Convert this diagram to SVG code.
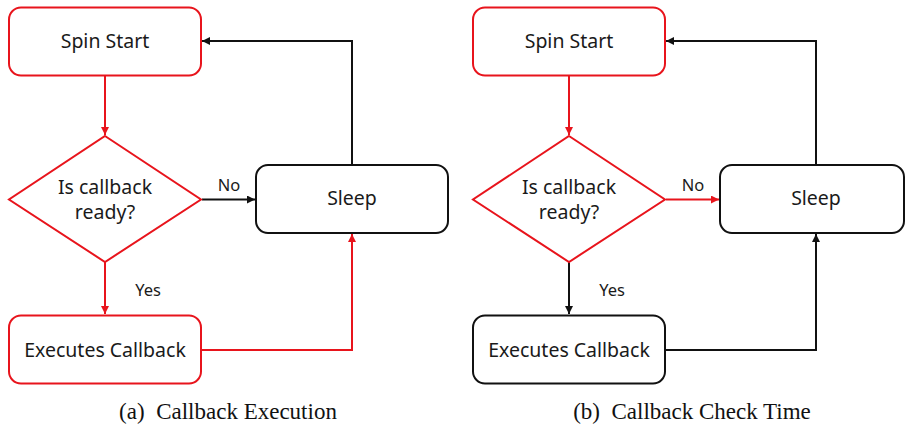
<svg xmlns="http://www.w3.org/2000/svg" width="906" height="431" viewBox="0 0 906 431">
<style>
.n{font-family:"Noto Sans","Open Sans",sans-serif;font-size:19.5px;fill:#1a1a1a;text-anchor:middle}
.l{font-family:"Noto Sans","Open Sans",sans-serif;font-size:16.5px;fill:#1a1a1a;text-anchor:middle}
.cap{font-family:"Liberation Serif","Times New Roman",serif;font-size:23px;fill:#111;text-anchor:middle}
.r{fill:#fff;stroke:#e8141c;stroke-width:2}
.k{fill:#fff;stroke:#111;stroke-width:2}
.cr{fill:none;stroke:#e8141c;stroke-width:2}
.ck{fill:none;stroke:#111;stroke-width:2}
</style>
<defs>
<marker id="ar" viewBox="0 0 10 10" refX="10" refY="5" markerWidth="4" markerHeight="4" orient="auto" markerUnits="strokeWidth"><path d="M0,0 L10,5 L0,10 z" fill="#e8141c"/></marker>
<marker id="ak" viewBox="0 0 10 10" refX="10" refY="5" markerWidth="4" markerHeight="4" orient="auto" markerUnits="strokeWidth"><path d="M0,0 L10,5 L0,10 z" fill="#111"/></marker>
</defs>
<rect width="906" height="431" fill="#fff"/>

<g id="connectors-a">
<path class="cr" d="M105,76 V135" marker-end="url(#ar)"/>
<path class="ck" d="M202,199.5 H255" marker-end="url(#ak)"/>
<path class="ck" d="M352,164 V41 H202" marker-end="url(#ak)"/>
<path class="cr" d="M105,262 V314" marker-end="url(#ar)"/>
<path class="cr" d="M202,350 H352 V234" marker-end="url(#ar)"/>
<text class="l" x="229" y="191">No</text>
<text class="l" x="148" y="296">Yes</text>
</g>
<g id="a-spin"><rect class="r" x="9" y="7.5" width="192" height="68" rx="12"/><text class="n" x="105" y="48">Spin Start</text></g>
<g id="a-check"><path class="r" d="M105,136 L201,199.5 L105,262 L9,199.5 Z"/><text class="n" x="105" y="194">Is callback</text><text class="n" x="105" y="219">ready?</text></g>
<g id="a-sleep"><rect class="k" x="256" y="165" width="192" height="68" rx="12"/><text class="n" x="352" y="205">Sleep</text></g>
<g id="a-exec"><rect class="r" x="9" y="315.5" width="192" height="68" rx="12"/><text class="n" x="105" y="357">Executes Callback</text></g>
<text class="cap" x="228" y="419" xml:space="preserve">(a)  Callback Execution</text>

<g id="connectors-b">
<path class="cr" d="M569,76 V135" marker-end="url(#ar)"/>
<path class="cr" d="M666,199.5 H719" marker-end="url(#ar)"/>
<path class="ck" d="M816,164 V41 H666" marker-end="url(#ak)"/>
<path class="ck" d="M569,262 V314" marker-end="url(#ak)"/>
<path class="ck" d="M666,350 H816 V234" marker-end="url(#ak)"/>
<text class="l" x="693" y="191">No</text>
<text class="l" x="612" y="296">Yes</text>
</g>
<g id="b-spin"><rect class="r" x="473" y="7.5" width="192" height="68" rx="12"/><text class="n" x="569" y="48">Spin Start</text></g>
<g id="b-check"><path class="r" d="M569,136 L665,199.5 L569,262 L473,199.5 Z"/><text class="n" x="569" y="194">Is callback</text><text class="n" x="569" y="219">ready?</text></g>
<g id="b-sleep"><rect class="k" x="720" y="165" width="184" height="68" rx="12"/><text class="n" x="816" y="205">Sleep</text></g>
<g id="b-exec"><rect class="k" x="473" y="315.5" width="192" height="68" rx="12"/><text class="n" x="569" y="357">Executes Callback</text></g>
<text class="cap" x="692" y="419" xml:space="preserve">(b)  Callback Check Time</text>
</svg>
